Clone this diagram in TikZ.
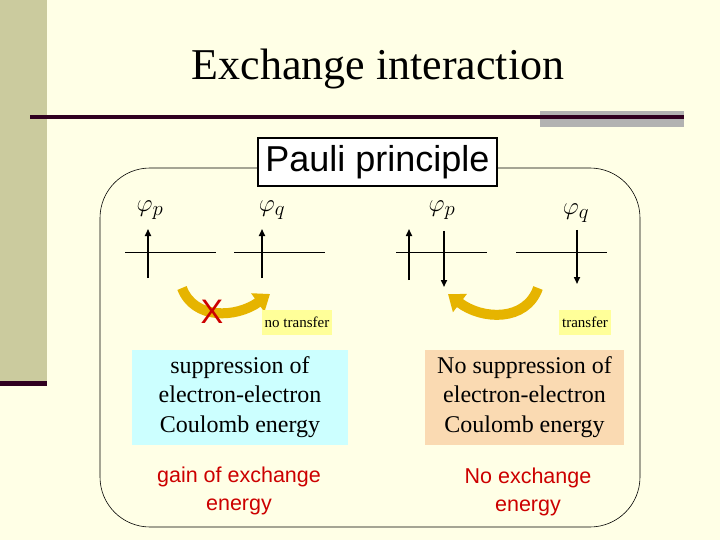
\documentclass[tikz,border=0pt]{standalone}
\usepackage{fontspec}
\setmainfont{Liberation Serif}
\setsansfont{Liberation Sans}
\usetikzlibrary{arrows.meta}
\definecolor{bg}{HTML}{FFFFE6}
\definecolor{bar}{HTML}{CBCB9E}
\definecolor{dk}{HTML}{300020}
\definecolor{arr}{HTML}{E6B400}
\definecolor{blu}{HTML}{CCFFFF}
\definecolor{org}{HTML}{FADAB2}
\definecolor{lab}{HTML}{FFFF99}
\definecolor{rd}{HTML}{CC0000}
\tikzset{
 orb/.style={line width=0.8pt},
 spin/.style={line width=1.6pt,-{Triangle[width=6pt,length=7pt]}},
 phi/.style={font=\fontsize{31}{32}\selectfont},
 cbox/.style={inner sep=0pt,minimum width=216pt,minimum height=95pt,align=center,font=\fontsize{24}{29.5}\selectfont},
 lbl/.style={fill=lab,font=\fontsize{15}{16}\selectfont,minimum height=25pt,inner sep=3pt},
 redtext/.style={text=rd,font=\sffamily\fontsize{21.5}{28}\selectfont,align=center},
 bentarrow/.style={line width=10pt,draw=arr,-{Triangle[width=22pt,length=15pt]}}
}
\begin{document}
\begin{tikzpicture}[x=1pt,y=-1pt]
\useasboundingbox (0,0) rectangle (720,540);
\fill[bg] (0,0) rectangle (720,540);
\fill[bar] (0,0) rectangle (47,383);
\fill[dk] (0,381) rectangle (47,386);
\fill[black!30] (540,111) rectangle (684,127);
\fill[dk] (30,115.5) rectangle (684,119);
\node (title) at (378,69) {\fontsize{44}{46}\selectfont Exchange interaction};
\draw[line width=0.6pt,rounded corners=50pt] (100,168) rectangle (640,527);
\node[draw,fill=white,line width=1.5pt,minimum width=239pt,minimum height=48pt,inner sep=0pt,font=\sffamily\fontsize{36}{36}\selectfont] (pauli) at (377.5,162) {Pauli principle};
% orbitals
\coordinate (l1a) at (125,252); \coordinate (l1b) at (216,252);
\coordinate (l2a) at (234,252); \coordinate (l2b) at (325,252);
\coordinate (l3a) at (396,252); \coordinate (l3b) at (487,252);
\coordinate (l4a) at (516,252); \coordinate (l4b) at (607,252);
\draw[orb] (l1a)--(l1b); \draw[orb] (l2a)--(l2b); \draw[orb] (l3a)--(l3b); \draw[orb] (l4a)--(l4b);
\coordinate (s1a) at (148,278); \coordinate (s1b) at (148,229);
\coordinate (s2a) at (262,278); \coordinate (s2b) at (262,229);
\coordinate (s3a) at (409,280); \coordinate (s3b) at (409,229);
\coordinate (s4a) at (444,231); \coordinate (s4b) at (444,287);
\coordinate (s5a) at (577,230); \coordinate (s5b) at (577,284);
\draw[spin] (s1a)--(s1b); \draw[spin] (s2a)--(s2b); \draw[spin] (s3a)--(s3b);
\draw[spin] (s4a)--(s4b); \draw[spin] (s5a)--(s5b);
\node[phi] (p1) at (150,210) {$\varphi_p$};
\node[phi] (q1) at (272,210) {$\varphi_q$};
\node[phi] (p2) at (442,210) {$\varphi_p$};
\node[phi] (q2) at (576,213) {$\varphi_q$};
% bent arrows
\coordinate (a1s) at (182,288); \coordinate (a1e) at (270,294);
\draw[bentarrow] (a1s) .. controls (194,320) and (236,318) .. (a1e);
\coordinate (a2s) at (538,288); \coordinate (a2e) at (448,294);
\draw[bentarrow] (a2s) .. controls (526,322) and (482,320) .. (a2e);
\node[text=rd,font=\sffamily\fontsize{34}{34}\selectfont] (x) at (212,312) {X};
\node[lbl] (nt) at (297,322) {no transfer};
\node[lbl] (tr) at (585,322) {transfer};
\node[cbox,fill=blu] (b1) at (240,397) {suppression of\\electron-electron\\Coulomb energy};
\node[cbox,fill=org,minimum width=199pt] (b2) at (524.5,397) {No suppression of\\electron-electron\\Coulomb energy};
\node[redtext] (g1) at (239,491) {gain of exchange\\energy};
\node[redtext] (g2) at (528,492) {No exchange\\energy};
\end{tikzpicture}
\end{document}
